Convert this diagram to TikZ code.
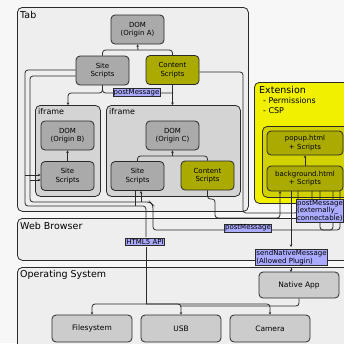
\documentclass[tikz,border=0pt]{standalone}
\usepackage{fontspec}
\setmainfont{DejaVu Sans}
\usetikzlibrary{arrows.meta}
\definecolor{bgc}{HTML}{F7F7F7}
\definecolor{contc}{HTML}{EEEEEE}
\definecolor{ifrc}{HTML}{D4D4D4}
\definecolor{nodec}{HTML}{AAAAAA}
\definecolor{olivec}{HTML}{AAAA00}
\definecolor{extc}{HTML}{F0F000}
\definecolor{extinc}{HTML}{D2D200}
\definecolor{lblc}{HTML}{AAAAFF}
\definecolor{osnc}{HTML}{CCCCCC}
\definecolor{bdc}{HTML}{2A2A2A}
\tikzset{
  frame/.style={draw=bdc, line width=0.8pt, rounded corners=5pt, anchor=north west, inner sep=0pt},
  title/.style={anchor=north west, inner sep=0pt, font=\fontsize{9.5}{11}\selectfont},
  ititle/.style={anchor=north west, inner sep=0pt, font=\fontsize{8}{9}\selectfont},
  nd/.style={draw=bdc, line width=0.8pt, rounded corners=4pt, fill=nodec, align=center, inner sep=0pt,
     font=\fontsize{7}{8.5}\selectfont, minimum width=53pt, minimum height=29pt},
  ol/.style={nd, fill=olivec},
  osn/.style={nd, fill=osnc, minimum width=80pt, minimum height=27pt, font=\fontsize{7.5}{9}\selectfont},
  lab/.style={draw=bdc, line width=0.5pt, fill=lblc, inner sep=0.8pt, align=left,
     font=\fontsize{7}{7.6}\selectfont},
  con/.style={draw=bdc, line width=0.8pt, rounded corners=3pt},
  arr/.style={con, -{Stealth[length=2.5pt,width=2.5pt]}},
}
\begin{document}
\begin{tikzpicture}[x=1pt,y=-1pt]
\useasboundingbox (0,0) rectangle (344,343);
\fill[bgc] (0,0) rectangle (344,343);
% containers
\node[frame, fill=contc, minimum width=231pt, minimum height=204pt] (tab) at (17,7) {};
\node[title] (tabT) at (20,11) {Tab};
\node[frame, fill=contc, minimum width=360pt, minimum height=42pt] (web) at (17,218) {};
\node[title] (webT) at (20,222) {Web Browser};
\node[frame, fill=contc, minimum width=360pt, minimum height=100pt] (os) at (17,267) {};
\node[title] (osT) at (20,270) {Operating System};
\node[frame, fill=extc, minimum width=110pt, minimum height=121pt] (ext) at (254,82) {};
\node[title, align=left] (extT) at (259,86) {Extension\\[-1pt]{\fontsize{8}{12}\selectfont\ \,- Permissions}\\[-1pt]{\fontsize{8}{12}\selectfont\ \,- CSP}};
\node[frame, fill=extinc, minimum width=100pt, minimum height=71pt] (extin) at (262,126) {};
\node[frame, fill=ifrc, minimum width=65pt, minimum height=91pt] (ifrB) at (35,105) {};
\node[ititle] (ifrBT) at (38,108) {iframe};
\node[frame, fill=ifrc, minimum width=134pt, minimum height=91pt] (ifrC) at (106,105) {};
\node[ititle] (ifrCT) at (109,108) {iframe};
% nodes
\node[nd] (domA) at (137.5,29.5) {DOM\\(Origin A)};
\node[nd] (siteA) at (102.5,70.5) {Site\\Scripts};
\node[ol] (contA) at (172.5,70) {Content\\Scripts};
\node[nd] (domB) at (67.5,135.5) {DOM\\(Origin B)};
\node[nd] (siteB) at (67.5,176) {Site\\Scripts};
\node[nd] (domC) at (172.5,135.5) {DOM\\(Origin C)};
\node[nd] (siteC) at (137.5,176) {Site\\Scripts};
\node[ol] (contC) at (207.5,175.5) {Content\\Scripts};
\node[ol, minimum width=76pt, minimum height=24pt] (popup) at (305,143) {popup.html\\+ Scripts};
\node[ol, minimum width=76pt, minimum height=25pt] (bgp) at (305,178.5) {background.html\\+ Scripts};
\node[osn, minimum height=26pt] (native) at (299,285) {Native App};
\node[osn] (fs) at (92,328.5) {Filesystem};
\node[osn] (usb) at (181,328.5) {USB};
\node[osn] (cam) at (270,328.5) {Camera};
% coordinates
\coordinate (jA) at (138,50);
\coordinate (jC) at (172.5,156);
\coordinate (jOS) at (146,304);
% tab internal connectors
\draw[con] (siteA.north) |- (jA);
\draw[con] (contA.north) |- (jA);
\draw[arr] (jA) -- (domA.south);
\draw[arr] (siteA.south) |- (68,93) -- (ifrB.north -| 68,0);
\draw[con] (siteA.south) |- (173,93);
\draw[arr] (contA.south) -- (contA.south |- ifrC.north);
\draw[arr] (siteB.north) -- (domB.south);
\draw[con] (siteC.north) |- (jC);
\draw[con] (contC.north) |- (jC);
\draw[arr] (jC) -- (domC.south);
\draw[arr] (bgp.north) -- (popup.south);
% long connectors
\draw[con] (siteA.west |- 0,70) -| (25,206) -| (146,237);
\draw[arr] (25,175) -- (siteB.west |- 0,175);
\draw[con] (siteA.west |- 0,76) -| (30,202) -- (150,202) -- (153,205) |- (333,230) -- (333,191);
\draw[con] (320,191) |- (333,230);
\draw[con] (340,191) |- (333,230);
\draw[arr] (30,180) -- (siteB.west |- 0,180);
\draw[con] (135,191) -- (135,206);
\draw[arr] (141,202) -- (141,191);
\draw[con] (contA.east |- 0,72) -| (243,213) -| (298,191);
\draw[con] (312,191) |- (298,213);
\draw[arr] (contC.south) |- (215,199) |- (280,218) -- (280,191);
% HTML5 line to OS
\draw[con] (146,247) -- (jOS);
\draw[arr] (jOS) -| (fs.north);
\draw[arr] (jOS) -| (usb.north);
\draw[arr] (jOS) -| (cam.north);
\draw[con] (native.south) |- (180,306);
\draw[arr] (291,191) -- (291,247);
\draw[arr] (291,268) -- (291,272);
% labels
\node[lab] (pmA) at (136.5,92.5) {postMessage};
\node[lab] (html) at (145,242) {HTML5 API};
\node[lab] (pmW) at (248,228) {postMessage};
\node[lab, anchor=north west] (pmX) at (296,199) {postMessage\\(externally\_\\connectable)};
\node[lab] (snm) at (291.5,257.5) {sendNativeMessage\\(Allowed Plugin)};
\end{tikzpicture}
\end{document}
